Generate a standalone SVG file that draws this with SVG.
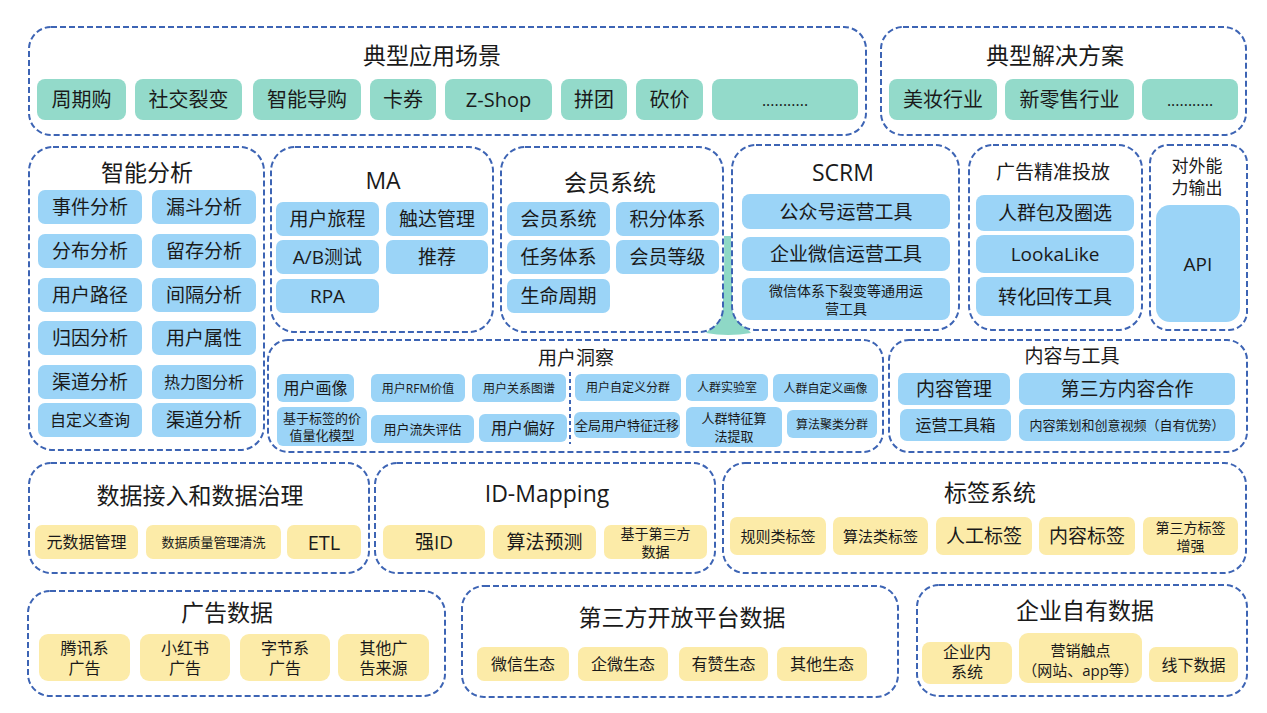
<svg xmlns="http://www.w3.org/2000/svg" width="1267" height="713" viewBox="0 0 1267 713">
<style>
.grp{fill:#fff;stroke:#3D64B4;stroke-width:2;stroke-dasharray:6 3}
.gr{fill:#93DACA}
.bl{fill:#9BD4F7}
.ye{fill:#FCEBA8}
text{font-family:"Open Sans","Noto Sans CJK SC",sans-serif;fill:#1a1a1a;text-anchor:middle;dominant-baseline:central}
.t23{font-size:23px}
.t20{font-size:20px}
.t19{font-size:19px}
.t17{font-size:17px}
.t16{font-size:16px}
.t15{font-size:15px}
.t14{font-size:14px}
.t13{font-size:13px}
.t12{font-size:12px}
</style>
<rect width="1267" height="713" fill="#fff"/>
<path d="M724 236 C725 298 723 316 706 333 Q728 337 751 333 C736 316 731 298 731 236 Z" fill="#8ED8C6"/>
<g id="connectors"/>

<g id="scenarios">
<rect class="grp" x="29" y="27" width="837" height="108" rx="22"/>
<text class="t23" x="432" y="55">典型应用场景</text>
<rect class="gr" x="37" y="79" width="89" height="41" rx="8"/><text class="t20" x="81.5" y="99.5">周期购</text>
<rect class="gr" x="135" y="79" width="107" height="41" rx="8"/><text class="t20" x="188.5" y="99.5">社交裂变</text>
<rect class="gr" x="253" y="79" width="108" height="41" rx="8"/><text class="t20" x="307" y="99.5">智能导购</text>
<rect class="gr" x="370" y="79" width="66" height="41" rx="8"/><text class="t20" x="403" y="99.5">卡券</text>
<rect class="gr" x="445" y="79" width="107" height="41" rx="8"/><text class="t20" x="498.5" y="99.5">Z-Shop</text>
<rect class="gr" x="561" y="79" width="66" height="41" rx="8"/><text class="t20" x="594" y="99.5">拼团</text>
<rect class="gr" x="636" y="79" width="67" height="41" rx="8"/><text class="t20" x="669.5" y="99.5">砍价</text>
<rect class="gr" x="712" y="79" width="146" height="41" rx="8"/><text class="t16" x="785" y="99.5">...........</text>
</g>

<g id="solutions">
<rect class="grp" x="881" y="27" width="365" height="108" rx="22"/>
<text class="t23" x="1055" y="55">典型解决方案</text>
<rect class="gr" x="889" y="79" width="108" height="41" rx="8"/><text class="t20" x="943" y="99.5">美妆行业</text>
<rect class="gr" x="1005" y="79" width="129" height="41" rx="8"/><text class="t20" x="1069.5" y="99.5">新零售行业</text>
<rect class="gr" x="1142" y="79" width="96" height="41" rx="8"/><text class="t16" x="1190" y="99.5">...........</text>
</g>

<g id="analytics">
<rect class="grp" x="29" y="147" width="235" height="303" rx="24"/>
<text class="t23" x="147" y="172">智能分析</text>
<rect class="bl" x="38" y="190" width="104" height="34" rx="7"/><text class="t19" x="90" y="207">事件分析</text>
<rect class="bl" x="152" y="190" width="104" height="34" rx="7"/><text class="t19" x="204" y="207">漏斗分析</text>
<rect class="bl" x="38" y="234" width="104" height="34" rx="7"/><text class="t19" x="90" y="251">分布分析</text>
<rect class="bl" x="152" y="234" width="104" height="34" rx="7"/><text class="t19" x="204" y="251">留存分析</text>
<rect class="bl" x="38" y="278" width="104" height="34" rx="7"/><text class="t19" x="90" y="295">用户路径</text>
<rect class="bl" x="152" y="278" width="104" height="34" rx="7"/><text class="t19" x="204" y="295">间隔分析</text>
<rect class="bl" x="38" y="321" width="104" height="34" rx="7"/><text class="t19" x="90" y="338">归因分析</text>
<rect class="bl" x="152" y="321" width="104" height="34" rx="7"/><text class="t19" x="204" y="338">用户属性</text>
<rect class="bl" x="38" y="365" width="104" height="34" rx="7"/><text class="t19" x="90" y="382">渠道分析</text>
<rect class="bl" x="152" y="365" width="104" height="34" rx="7"/><text class="t16" x="204" y="382">热力图分析</text>
<rect class="bl" x="38" y="403" width="104" height="34" rx="7"/><text class="t16" x="90" y="420">自定义查询</text>
<rect class="bl" x="152" y="403" width="104" height="34" rx="7"/><text class="t19" x="204" y="420">渠道分析</text>
</g>

<g id="ma">
<rect class="grp" x="271" y="147" width="222" height="185" rx="24"/>
<text class="t23" x="383" y="180">MA</text>
<rect class="bl" x="276" y="202" width="103" height="34" rx="7"/><text class="t19" x="327.5" y="219">用户旅程</text>
<rect class="bl" x="386" y="202" width="102" height="34" rx="7"/><text class="t19" x="437" y="219">触达管理</text>
<rect class="bl" x="276" y="240" width="103" height="34" rx="7"/><text class="t19" x="327.5" y="257">A/B测试</text>
<rect class="bl" x="386" y="240" width="102" height="34" rx="7"/><text class="t19" x="437" y="257">推荐</text>
<rect class="bl" x="276" y="279" width="103" height="34" rx="7"/><text class="t19" x="327.5" y="296">RPA</text>
</g>

<g id="membership">
<rect class="grp" x="501" y="147" width="222" height="185" rx="24"/>
<text class="t23" x="610" y="182">会员系统</text>
<rect class="bl" x="507" y="202" width="103" height="34" rx="7"/><text class="t19" x="558.5" y="219">会员系统</text>
<rect class="bl" x="616" y="202" width="103" height="34" rx="7"/><text class="t19" x="667.5" y="219">积分体系</text>
<rect class="bl" x="507" y="240" width="103" height="34" rx="7"/><text class="t19" x="558.5" y="257">任务体系</text>
<rect class="bl" x="616" y="240" width="103" height="34" rx="7"/><text class="t19" x="667.5" y="257">会员等级</text>
<rect class="bl" x="507" y="279" width="103" height="34" rx="7"/><text class="t19" x="558.5" y="296">生命周期</text>
</g>

<g id="scrm">
<rect class="grp" x="732" y="145" width="227" height="185" rx="24"/>
<text class="t23" x="843" y="172">SCRM</text>
<rect class="bl" x="742" y="194" width="208" height="35" rx="8"/><text class="t19" x="846" y="211.5">公众号运营工具</text>
<rect class="bl" x="742" y="237" width="208" height="34" rx="8"/><text class="t19" x="846" y="254">企业微信运营工具</text>
<rect class="bl" x="742" y="278" width="208" height="42" rx="8"/><text class="t14" x="846" y="290">微信体系下裂变等通用运</text><text class="t14" x="846" y="308">营工具</text>
</g>

<g id="ads-targeting">
<rect class="grp" x="969" y="145" width="173" height="185" rx="24"/>
<text class="t19" x="1053" y="172">广告精准投放</text>
<rect class="bl" x="976" y="195" width="158" height="36" rx="8"/><text class="t19" x="1055" y="213">人群包及圈选</text>
<rect class="bl" x="976" y="235" width="158" height="38" rx="8"/><text class="t19" x="1055" y="254">LookaLike</text>
<rect class="bl" x="976" y="277" width="158" height="39" rx="8"/><text class="t19" x="1055" y="296.5">转化回传工具</text>
</g>

<g id="api-output">
<rect class="grp" x="1150" y="145" width="97" height="185" rx="18"/>
<text class="t17" x="1197" y="165">对外能</text>
<text class="t17" x="1197" y="187">力输出</text>
<rect class="bl" x="1156" y="205" width="84" height="117" rx="14"/><text class="t19" x="1198" y="264">API</text>
</g>

<g id="user-insight">
<rect class="grp" x="268" y="340" width="615" height="112" rx="20"/>
<text class="t19" x="576" y="358">用户洞察</text>
<line x1="570" y1="372" x2="570" y2="444" stroke="#3D64B4" stroke-width="2" stroke-dasharray="4 3"/>
<rect class="bl" x="277" y="374" width="77" height="28" rx="6"/><text class="t16" x="315.5" y="388">用户画像</text>
<rect class="bl" x="371" y="374" width="94" height="28" rx="6"/><text class="t12" x="418" y="388">用户RFM价值</text>
<rect class="bl" x="472" y="374" width="94" height="28" rx="6"/><text class="t12" x="519" y="388">用户关系图谱</text>
<rect class="bl" x="277" y="407" width="90" height="39" rx="6"/><text class="t13" x="322" y="418">基于标签的价</text><text class="t13" x="322" y="435">值量化模型</text>
<rect class="bl" x="371" y="415" width="103" height="28" rx="6"/><text class="t13" x="422.5" y="429">用户流失评估</text>
<rect class="bl" x="479" y="414" width="88" height="28" rx="6"/><text class="t16" x="523" y="428">用户偏好</text>
<rect class="bl" x="575" y="374" width="106" height="27" rx="6"/><text class="t12" x="628" y="387.5">用户自定义分群</text>
<rect class="bl" x="686" y="374" width="82" height="27" rx="6"/><text class="t12" x="727" y="387.5">人群实验室</text>
<rect class="bl" x="773" y="374" width="105" height="28" rx="6"/><text class="t12" x="825.5" y="388">人群自定义画像</text>
<rect class="bl" x="574" y="412" width="106" height="26" rx="6"/><text class="t13" x="627" y="425">全局用户特征迁移</text>
<rect class="bl" x="686" y="407" width="96" height="40" rx="6"/><text class="t13" x="734" y="418">人群特征算</text><text class="t13" x="734" y="436">法提取</text>
<rect class="bl" x="787" y="410" width="90" height="28" rx="6"/><text class="t12" x="832" y="424">算法聚类分群</text>
</g>

<g id="content-tools">
<rect class="grp" x="889" y="340" width="358" height="112" rx="20"/>
<text class="t19" x="1072" y="356">内容与工具</text>
<rect class="bl" x="898" y="373" width="112" height="32" rx="7"/><text class="t19" x="954" y="389">内容管理</text>
<rect class="bl" x="1019" y="373" width="216" height="32" rx="7"/><text class="t19" x="1127" y="389">第三方内容合作</text>
<rect class="bl" x="900" y="409" width="111" height="32" rx="7"/><text class="t16" x="955.5" y="425">运营工具箱</text>
<rect class="bl" x="1019" y="409" width="216" height="32" rx="7"/><text class="t13" x="1127" y="425">内容策划和创意视频（自有优势）</text>
</g>

<g id="data-ingestion">
<rect class="grp" x="29" y="463" width="340" height="110" rx="22"/>
<text class="t23" x="200" y="495">数据接入和数据治理</text>
<rect class="ye" x="35" y="525" width="103" height="34" rx="7"/><text class="t16" x="86.5" y="542">元数据管理</text>
<rect class="ye" x="146" y="525" width="135" height="34" rx="7"/><text class="t13" x="213.5" y="542">数据质量管理清洗</text>
<rect class="ye" x="287" y="525" width="74" height="34" rx="7"/><text class="t20" x="324" y="542">ETL</text>
</g>

<g id="id-mapping">
<rect class="grp" x="375" y="463" width="340" height="110" rx="22"/>
<text class="t23" x="547" y="493">ID-Mapping</text>
<rect class="ye" x="383" y="525" width="102" height="34" rx="7"/><text class="t19" x="434" y="542">强ID</text>
<rect class="ye" x="493" y="525" width="103" height="34" rx="7"/><text class="t19" x="544.5" y="542">算法预测</text>
<rect class="ye" x="604" y="525" width="103" height="34" rx="7"/><text class="t14" x="655.5" y="533">基于第三方</text><text class="t14" x="655.5" y="551">数据</text>
</g>

<g id="tag-system">
<rect class="grp" x="723" y="463" width="523" height="110" rx="22"/>
<text class="t23" x="990" y="492">标签系统</text>
<rect class="ye" x="730" y="517" width="96" height="38" rx="7"/><text class="t15" x="778" y="536">规则类标签</text>
<rect class="ye" x="833" y="517" width="95" height="38" rx="7"/><text class="t15" x="880.5" y="536">算法类标签</text>
<rect class="ye" x="936" y="517" width="96" height="38" rx="7"/><text class="t19" x="984" y="536">人工标签</text>
<rect class="ye" x="1039" y="517" width="96" height="38" rx="7"/><text class="t19" x="1087" y="536">内容标签</text>
<rect class="ye" x="1143" y="517" width="95" height="38" rx="7"/><text class="t14" x="1190.5" y="527">第三方标签</text><text class="t14" x="1190.5" y="545">增强</text>
</g>

<g id="ad-data">
<rect class="grp" x="28" y="591" width="417" height="105" rx="22"/>
<text class="t23" x="227" y="612">广告数据</text>
<rect class="ye" x="39" y="634" width="91" height="47" rx="9"/><text class="t16" x="84.5" y="648">腾讯系</text><text class="t16" x="84.5" y="668">广告</text>
<rect class="ye" x="140" y="634" width="90" height="47" rx="9"/><text class="t16" x="185" y="648">小红书</text><text class="t16" x="185" y="668">广告</text>
<rect class="ye" x="240" y="634" width="90" height="47" rx="9"/><text class="t16" x="285" y="648">字节系</text><text class="t16" x="285" y="668">广告</text>
<rect class="ye" x="338" y="634" width="91" height="47" rx="9"/><text class="t16" x="383.5" y="648">其他广</text><text class="t16" x="383.5" y="668">告来源</text>
</g>

<g id="third-party-data">
<rect class="grp" x="462" y="586" width="436" height="111" rx="22"/>
<text class="t23" x="682" y="617">第三方开放平台数据</text>
<rect class="ye" x="477" y="647" width="92" height="34" rx="7"/><text class="t16" x="523" y="664">微信生态</text>
<rect class="ye" x="578" y="647" width="90" height="34" rx="7"/><text class="t16" x="623" y="664">企微生态</text>
<rect class="ye" x="679" y="647" width="89" height="34" rx="7"/><text class="t16" x="723.5" y="664">有赞生态</text>
<rect class="ye" x="777" y="647" width="90" height="34" rx="7"/><text class="t16" x="822" y="664">其他生态</text>
</g>

<g id="enterprise-data">
<rect class="grp" x="917" y="585" width="330" height="111" rx="22"/>
<text class="t23" x="1085" y="610">企业自有数据</text>
<rect class="ye" x="922" y="642" width="90" height="42" rx="8"/><text class="t16" x="967" y="652">企业内</text><text class="t16" x="967" y="672">系统</text>
<rect class="ye" x="1019" y="633" width="123" height="50" rx="9"/><text class="t15" x="1080.5" y="650">营销触点</text><text class="t15" x="1080.5" y="670">（网站、app等）</text>
<rect class="ye" x="1149" y="647" width="89" height="35" rx="7"/><text class="t16" x="1193.5" y="664.5">线下数据</text>
</g>
</svg>
